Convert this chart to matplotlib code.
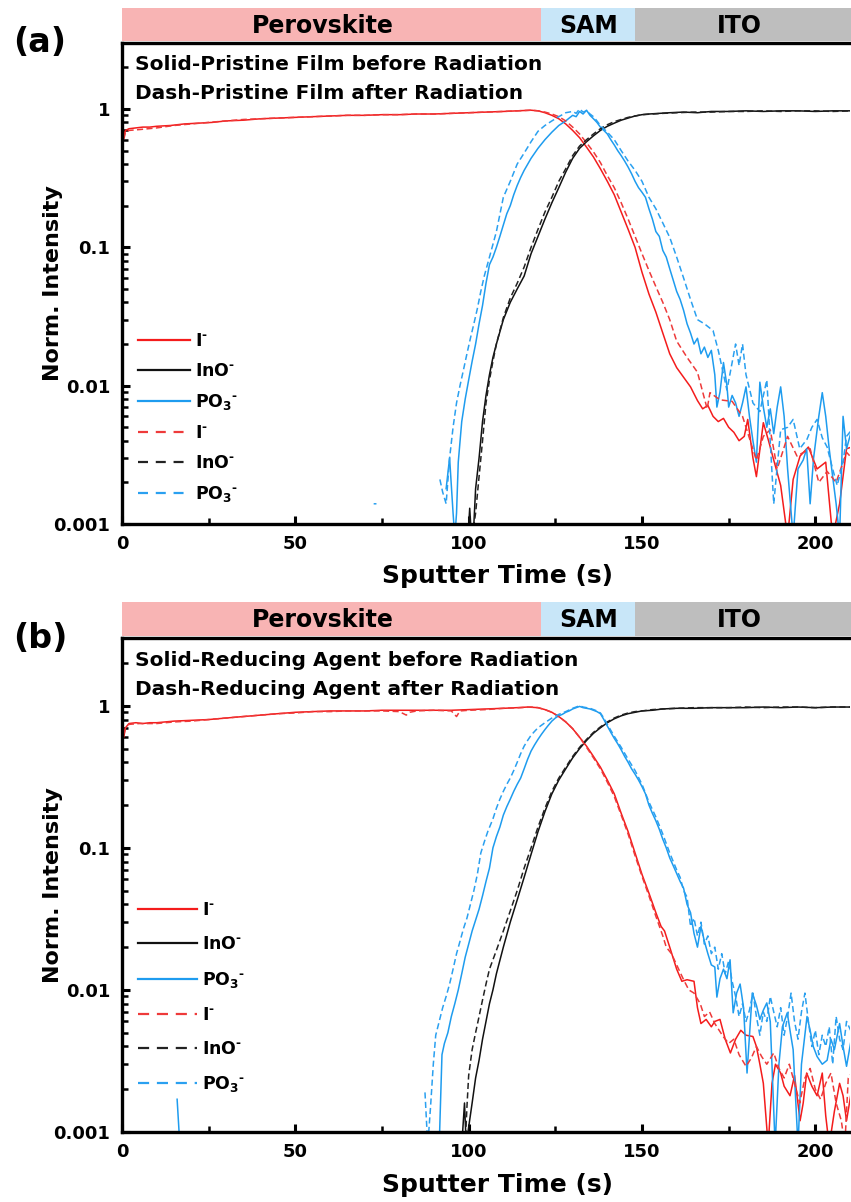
import numpy as np
import matplotlib
matplotlib.use("Agg")
import matplotlib.pyplot as plt
from matplotlib.patches import Rectangle
from matplotlib.lines import Line2D
from matplotlib.ticker import FixedLocator, FixedFormatter, LogLocator, MultipleLocator, NullFormatter

plt.rcParams['font.family'] = ['DejaVu Sans']
plt.rcParams['font.weight'] = 'bold'
plt.rcParams['mathtext.fontset'] = 'dejavusans'
plt.rcParams['mathtext.default'] = 'bf'

# ---------------- layer band ----------------
layer_names = ['Perovskite', 'SAM', 'ITO']
layer_edges = [0, 121, 148, 214]
layer_colors = ['#F8B4B4', '#C8E6F8', '#BEBEBE']
layer_label_x = [58, 134.5, 178]

ytick_vals = [0.001, 0.01, 0.1, 1]
ytick_labels = ['0.001', '0.01', '0.1', '1']
xtick_vals = [0, 50, 100, 150, 200]

# ---------------- panel (a) data ----------------
a_I_solid_x = [0, 0.5, 1, 2, 4, 6, 8, 10, 14, 18, 22, 26, 30, 35, 40, 45, 50, 55, 60, 65, 70, 75, 80, 85, 90, 95,
               100, 105, 110, 114, 118, 120, 122, 124, 126, 128, 130, 132, 134, 136, 138, 140, 142, 144, 146, 148,
               150, 152, 154, 156, 158, 160, 162, 164, 166, 167.5, 169, 170.5, 172, 173.5, 175, 176.5, 178, 179.5,
               180.5, 182, 183, 185, 186.5, 188, 190, 192, 193.6, 195.6, 198, 200.5, 203, 205, 207, 209, 210.5]
a_I_solid_y = [1.0, 0.62, 0.70, 0.72, 0.73, 0.74, 0.74, 0.75, 0.76, 0.78, 0.79, 0.80, 0.82, 0.83, 0.85, 0.86, 0.87,
               0.88, 0.89, 0.90, 0.90, 0.91, 0.91, 0.92, 0.92, 0.93, 0.94, 0.95, 0.96, 0.97, 0.98, 0.97, 0.94, 0.90,
               0.85, 0.78, 0.70, 0.62, 0.53, 0.45, 0.37, 0.30, 0.24, 0.18, 0.135, 0.10, 0.066, 0.046, 0.034, 0.024,
               0.017, 0.0135, 0.0115, 0.0098, 0.0078, 0.0068, 0.0072, 0.0060, 0.0055, 0.0058, 0.0050, 0.0046, 0.0040,
               0.0043, 0.0057, 0.0030, 0.0022, 0.0054, 0.0040, 0.0029, 0.0019, 0.0008, 0.0021, 0.0031, 0.0036, 0.0025,
               0.0028, 0.0008, 0.0014, 0.0035, 0.0036]

a_I_dash_x = [0, 0.5, 1, 2, 5, 10, 15, 20, 25, 30, 35, 40, 45, 50, 55, 60, 65, 70, 75, 80, 85, 90, 95, 100, 105, 110,
              114, 118, 120, 122, 124, 126, 128, 130, 132, 134, 136, 138, 140, 142, 144, 146, 148, 150, 152, 154, 156,
              158, 160, 163, 166, 168.8, 169.6, 172.5, 176, 179, 181.8, 183, 185, 187, 189, 192, 194.7, 198.5, 201,
              203.4, 206, 209, 210.5]
a_I_dash_y = [0.95, 0.60, 0.68, 0.70, 0.71, 0.73, 0.76, 0.78, 0.80, 0.82, 0.84, 0.85, 0.86, 0.87, 0.88, 0.89, 0.90,
              0.90, 0.91, 0.91, 0.92, 0.92, 0.93, 0.94, 0.95, 0.96, 0.97, 0.98, 0.97, 0.95, 0.92, 0.88, 0.82, 0.74,
              0.66, 0.57, 0.49, 0.41, 0.33, 0.27, 0.21, 0.16, 0.12, 0.090, 0.068, 0.052, 0.040, 0.030, 0.021, 0.016,
              0.0125, 0.0068, 0.0089, 0.0079, 0.0077, 0.0060, 0.0036, 0.0029, 0.0043, 0.0048, 0.0025, 0.0043, 0.0031,
              0.0035, 0.0020, 0.0024, 0.0020, 0.0033, 0.0030]

a_InO_solid_x = [99.8, 100.3, 100.8, 101.5, 102, 103, 104, 105, 106, 107, 108, 110, 112, 114, 116, 118, 120, 122, 124,
                 126, 128, 130, 132, 134, 136, 138, 140, 142, 144, 146, 148, 150, 152, 155, 158, 162, 166, 170, 175,
                 180, 185, 190, 195, 200, 205, 210.5]
a_InO_solid_y = [0.0008, 0.0013, 0.0008, 0.0010, 0.0018, 0.0030, 0.0055, 0.0085, 0.012, 0.016, 0.020, 0.030, 0.040,
                 0.050, 0.062, 0.090, 0.12, 0.16, 0.21, 0.27, 0.35, 0.44, 0.52, 0.58, 0.64, 0.70, 0.75, 0.79, 0.83,
                 0.86, 0.89, 0.91, 0.92, 0.93, 0.94, 0.95, 0.94, 0.96, 0.96, 0.97, 0.96, 0.97, 0.97, 0.96, 0.97, 0.97]

a_InO_dash_x = [101, 102, 103, 104, 105, 106, 107, 108, 110, 112, 114, 116, 118, 120, 122, 124, 126, 128, 130, 132,
                134, 136, 138, 140, 142, 144, 146, 148, 150, 153, 156, 160, 165, 170, 175, 180, 185, 190, 195, 200,
                205, 210.5]
a_InO_dash_y = [0.0008, 0.0012, 0.0022, 0.0040, 0.0075, 0.011, 0.015, 0.020, 0.031, 0.043, 0.055, 0.072, 0.10, 0.135,
                0.18, 0.23, 0.30, 0.37, 0.46, 0.54, 0.60, 0.66, 0.72, 0.77, 0.81, 0.84, 0.87, 0.89, 0.91, 0.92, 0.93,
                0.94, 0.95, 0.95, 0.96, 0.96, 0.97, 0.96, 0.97, 0.97, 0.96, 0.97]

a_PO3_solid_x = [93.5, 94.5, 95.5, 96, 96.5, 97, 98, 99, 100, 101, 102, 103, 104, 105, 106, 107, 108, 109, 110, 111,
                 112, 113, 114, 115, 116, 118, 120, 122, 124, 126, 128, 129, 130, 131, 132, 133, 134, 135, 136, 137,
                 138, 139, 140, 141, 142, 143, 144, 145, 146, 147, 148, 149, 150, 151, 152, 153, 154, 155, 156, 157,
                 158, 159, 160, 161, 162, 163, 164, 165, 166, 167, 168, 169, 170, 171, 171.6, 172.5, 173.5, 174.5,
                 175, 176, 177, 178, 179, 180, 181, 182, 183, 184, 185, 186, 187, 188, 189, 190, 191, 192, 193.6,
                 195, 196.5, 197.5, 198.5, 199.5, 201, 202, 203, 204, 205, 206, 207, 208, 209, 210.5]
a_PO3_solid_y = [0.0018, 0.0030, 0.0012, 0.0008, 0.0012, 0.0028, 0.0055, 0.008, 0.011, 0.015, 0.020, 0.028, 0.038,
                 0.055, 0.075, 0.085, 0.10, 0.12, 0.145, 0.175, 0.20, 0.24, 0.28, 0.32, 0.36, 0.44, 0.52, 0.60, 0.68,
                 0.76, 0.82, 0.86, 0.90, 0.88, 0.96, 0.92, 0.98, 0.90, 0.85, 0.80, 0.74, 0.70, 0.66, 0.60, 0.55, 0.50,
                 0.46, 0.42, 0.38, 0.34, 0.30, 0.27, 0.25, 0.23, 0.19, 0.16, 0.13, 0.12, 0.095, 0.085, 0.07, 0.058,
                 0.048, 0.042, 0.035, 0.028, 0.024, 0.020, 0.022, 0.017, 0.019, 0.016, 0.018, 0.012, 0.007, 0.009,
                 0.0147, 0.010, 0.007, 0.0085, 0.0075, 0.0060, 0.0075, 0.0098, 0.006, 0.004, 0.0028, 0.0106, 0.0070,
                 0.0050, 0.0068, 0.0045, 0.0070, 0.0098, 0.0060, 0.0025, 0.0008, 0.0025, 0.0029, 0.0035, 0.0014,
                 0.0030, 0.0060, 0.0089, 0.0060, 0.0035, 0.0022, 0.0014, 0.0008, 0.0060, 0.0035, 0.0048]

a_PO3_dash_x = [72.6, 73.4, np.nan, 91.7, 92.5, 93.5, 94.5, 95.5, 96.5, 97.5, 98.5, 99.5, 100.5, 101.5, 102.5, 103.5,
                104.5, 106, 108, 110, 112, 114, 116, 118, 120, 122, 124, 126, 128, 130, 131, 132, 133, 134, 135, 136,
                137, 138, 140, 142, 144, 146, 148, 150, 152, 154, 156, 158, 160, 162, 164, 166, 168, 170.5, 172,
                174.5, 176, 177, 178, 179, 180, 182, 184, 186, 188, 190, 192, 193.6, 195.5, 197.6, 199, 200.5, 202,
                203.4, 205, 206.3, 208, 209, 210.5]
a_PO3_dash_y = [0.0014, 0.0014, np.nan, 0.0021, 0.0017, 0.0014, 0.0030, 0.0050, 0.0075, 0.010, 0.013, 0.017, 0.022,
                0.028, 0.036, 0.048, 0.062, 0.085, 0.13, 0.23, 0.30, 0.40, 0.48, 0.58, 0.69, 0.76, 0.82, 0.88, 0.94,
                0.96, 0.93, 1.0, 0.95, 0.97, 0.92, 0.88, 0.82, 0.76, 0.68, 0.60, 0.50, 0.42, 0.36, 0.30, 0.23, 0.19,
                0.15, 0.118, 0.085, 0.060, 0.042, 0.030, 0.028, 0.025, 0.018, 0.0093, 0.0147, 0.020, 0.014, 0.020,
                0.012, 0.0075, 0.0065, 0.011, 0.0014, 0.0048, 0.0050, 0.0057, 0.0035, 0.0041, 0.0050, 0.0057, 0.0042,
                0.0036, 0.0025, 0.0019, 0.0028, 0.0043, 0.0048]

# ---------------- panel (b) data ----------------
b_I_solid_x = [0, 0.5, 1, 2, 4, 6, 8, 10, 15, 20, 25, 30, 35, 40, 45, 50, 55, 60, 65, 70, 75, 80, 85, 90, 95, 100,
               105, 110, 114, 117, 120, 122, 124, 126, 128, 130, 132, 134, 136, 138, 140, 142, 144, 146, 148, 150,
               152, 154, 155.5, 156.5, 158, 160, 161.5, 163, 165, 166, 167, 168.5, 170, 171, 172.5, 174, 175.5, 177,
               178.5, 180, 182, 183, 184, 185, 186.4, 187.5, 188.5, 190, 191, 192.7, 194, 195.6, 196.5, 197.5, 199,
               200.5, 202, 203, 204, 205.5, 207, 208, 209, 210.5]
b_I_solid_y = [0.98, 0.60, 0.70, 0.75, 0.76, 0.75, 0.76, 0.76, 0.78, 0.79, 0.80, 0.82, 0.84, 0.86, 0.88, 0.90, 0.91,
               0.92, 0.92, 0.92, 0.93, 0.93, 0.93, 0.93, 0.93, 0.94, 0.95, 0.96, 0.97, 0.98, 0.97, 0.94, 0.90, 0.84,
               0.77, 0.69, 0.60, 0.52, 0.44, 0.37, 0.30, 0.24, 0.175, 0.13, 0.092, 0.065, 0.048, 0.035, 0.028, 0.026,
               0.020, 0.014, 0.0115, 0.0118, 0.0115, 0.0075, 0.0058, 0.0062, 0.0055, 0.0060, 0.0062, 0.0045, 0.0036,
               0.0045, 0.0052, 0.0048, 0.0047, 0.0040, 0.0030, 0.0022, 0.0008, 0.0022, 0.0030, 0.0026, 0.0021, 0.0018,
               0.0025, 0.0012, 0.0016, 0.0026, 0.0021, 0.0018, 0.0026, 0.0013, 0.0008, 0.0014, 0.0022, 0.0018, 0.0012,
               0.0020]

b_I_dash_x = [0, 0.5, 1, 2, 5, 10, 15, 20, 25, 30, 35, 40, 45, 50, 55, 60, 65, 70, 75, 80, 82, 83, 85, 90, 95, 96.5,
              97.5, 100, 105, 110, 115, 118, 120, 122, 124, 126, 128, 130, 132, 134, 136, 138, 140, 142, 144, 146,
              148, 150, 152, 154, 156, 157, 158.5, 160, 162, 163.5, 165, 166.8, 168, 169.5, 171, 173.4, 175, 176.5,
              178, 180, 181.5, 183, 184.5, 186, 188, 189.5, 191, 192.5, 194, 195.5, 197, 198.5, 200, 201.5, 203,
              204.5, 206, 207.5, 208.5, 209.5, 210.5]
b_I_dash_y = [0.95, 0.62, 0.70, 0.74, 0.75, 0.75, 0.77, 0.78, 0.80, 0.82, 0.84, 0.86, 0.88, 0.89, 0.91, 0.91, 0.92,
              0.92, 0.92, 0.91, 0.86, 0.90, 0.92, 0.93, 0.92, 0.84, 0.92, 0.93, 0.94, 0.96, 0.97, 0.98, 0.97, 0.94,
              0.90, 0.84, 0.77, 0.69, 0.60, 0.51, 0.43, 0.36, 0.29, 0.23, 0.17, 0.125, 0.088, 0.063, 0.046, 0.033,
              0.024, 0.020, 0.018, 0.015, 0.0118, 0.010, 0.0095, 0.008, 0.0065, 0.0070, 0.0058, 0.0047, 0.0042,
              0.0045, 0.0035, 0.0029, 0.0033, 0.0040, 0.0034, 0.0030, 0.0036, 0.0028, 0.0024, 0.0030, 0.0022, 0.0016,
              0.0024, 0.0028, 0.0020, 0.0017, 0.0022, 0.0026, 0.0016, 0.0012, 0.0008, 0.0024, 0.0026]

b_InO_solid_x = [98, 98.8, 99.3, 99.8, 101, 102, 103, 104, 105, 106, 107, 108, 110, 112, 114, 116, 118, 120, 122, 124,
                 126, 128, 130, 132, 134, 136, 138, 140, 142, 144, 146, 148, 150, 153, 156, 160, 165, 170, 175, 180,
                 185, 190, 195, 200, 205, 210.5]
b_InO_solid_y = [0.0008, 0.0016, 0.0008, 0.0010, 0.0016, 0.0024, 0.0032, 0.0045, 0.006, 0.008, 0.010, 0.013, 0.020,
                 0.030, 0.043, 0.062, 0.09, 0.13, 0.18, 0.24, 0.30, 0.36, 0.43, 0.50, 0.57, 0.64, 0.70, 0.76, 0.81,
                 0.85, 0.88, 0.90, 0.92, 0.93, 0.95, 0.96, 0.96, 0.97, 0.97, 0.97, 0.98, 0.97, 0.98, 0.97, 0.98, 0.98]

b_InO_dash_x = [99, 99.5, 100, 101, 102, 103, 104, 105, 106, 108, 110, 112, 114, 116, 118, 120, 122, 124, 126, 128,
                130, 132, 134, 136, 138, 140, 142, 144, 146, 148, 150, 153, 156, 160, 165, 170, 175, 180, 185, 190,
                195, 200, 205, 210.5]
b_InO_dash_y = [0.0008, 0.0015, 0.0025, 0.0038, 0.0050, 0.0065, 0.0085, 0.011, 0.014, 0.019, 0.026, 0.036, 0.050,
                0.072, 0.10, 0.14, 0.19, 0.25, 0.31, 0.37, 0.44, 0.51, 0.58, 0.65, 0.71, 0.77, 0.82, 0.86, 0.89, 0.91,
                0.92, 0.94, 0.95, 0.96, 0.97, 0.97, 0.97, 0.98, 0.97, 0.98, 0.98, 0.97, 0.98, 0.98]

b_PO3_solid_x = [15.9, 16.7, np.nan, 91.5, 92.3, 93, 94, 95, 96, 97, 98, 99, 100, 101, 102, 103, 104, 105, 106, 107,
                 108, 109, 110, 111, 112, 113, 114, 115, 116, 117, 118, 119, 120, 121, 122, 123, 124, 125, 126, 127,
                 128, 129, 130, 131, 132, 133, 134, 135, 136, 137, 138, 139, 140, 141, 142, 143, 144, 145, 146, 147,
                 148, 149, 150, 151, 152, 153, 154, 155, 156, 157, 158, 159, 160, 161, 162, 163, 164, 165, 166, 167,
                 168, 169, 170, 171, 171.6, 172.5, 173.5, 174.5, 175.4, 176.3, 177.3, 178.3, 179.3, 180.3, 181.8, 183,
                 184, 185, 186, 187, 188.4, 189.5, 190.5, 191.9, 192.8, 193.6, 195, 196, 197.6, 198.5, 199.4, 200.5,
                 202, 203.4, 204.5, 205.5, 207, 208, 209, 210.5]
b_PO3_solid_y = [0.0017, 0.0008, np.nan, 0.0008, 0.0035, 0.0042, 0.005, 0.0065, 0.008, 0.010, 0.013, 0.017, 0.021,
                 0.026, 0.031, 0.037, 0.046, 0.058, 0.072, 0.10, 0.12, 0.14, 0.17, 0.195, 0.22, 0.25, 0.28, 0.31, 0.36,
                 0.42, 0.48, 0.53, 0.58, 0.63, 0.68, 0.73, 0.78, 0.82, 0.85, 0.87, 0.90, 0.92, 0.95, 0.97, 0.99, 0.97,
                 0.96, 0.95, 0.93, 0.91, 0.88, 0.80, 0.72, 0.65, 0.59, 0.54, 0.49, 0.44, 0.40, 0.36, 0.33, 0.30, 0.27,
                 0.24, 0.20, 0.175, 0.155, 0.135, 0.115, 0.10, 0.085, 0.075, 0.066, 0.058, 0.052, 0.040, 0.035, 0.025,
                 0.020, 0.028, 0.022, 0.018, 0.015, 0.0145, 0.0089, 0.012, 0.014, 0.012, 0.0163, 0.0069, 0.0095, 0.011,
                 0.0075, 0.0026, 0.0095, 0.0078, 0.0062, 0.0072, 0.0081, 0.0060, 0.0008, 0.0030, 0.0055, 0.0069, 0.0050,
                 0.0038, 0.0008, 0.0030, 0.0065, 0.0052, 0.0040, 0.0034, 0.0030, 0.0032, 0.0045, 0.0038, 0.0058, 0.0040,
                 0.0029, 0.0047]

b_PO3_dash_x = [87.4, 88.2, 89, 89.8, 90.5, 91.5, 92.5, 93.5, 94.5, 95.5, 96.5, 97.5, 98.5, 99.5, 100.5, 101.5, 102.5,
                103.5, 104.5, 105.5, 107, 108, 109, 110, 111, 112, 113, 114, 115, 116, 117, 118, 119, 120, 122, 124,
                126, 128, 130, 131, 132, 133, 134, 135, 136, 137, 138, 139, 140, 142, 144, 146, 148, 150, 152, 154,
                156, 158, 160, 161, 162, 163, 164, 165, 166, 167, 168, 169, 170, 171, 172, 173, 174, 175, 176, 177,
                178, 179, 180, 181, 182, 183, 184, 185, 186, 187, 188, 189, 190, 191, 192, 193, 194, 195, 196, 197,
                198, 199, 200, 201, 202, 203, 204, 205, 206, 207, 208, 209, 210.5]
b_PO3_dash_y = [0.0019, 0.0008, 0.0015, 0.0030, 0.0048, 0.006, 0.0075, 0.009, 0.011, 0.014, 0.018, 0.022, 0.027,
                0.032, 0.040, 0.050, 0.065, 0.092, 0.11, 0.13, 0.16, 0.19, 0.22, 0.25, 0.28, 0.31, 0.35, 0.40, 0.46,
                0.52, 0.57, 0.62, 0.66, 0.70, 0.76, 0.82, 0.87, 0.91, 0.96, 0.98, 1.0, 0.98, 0.97, 0.96, 0.94, 0.92,
                0.89, 0.82, 0.74, 0.61, 0.51, 0.42, 0.35, 0.28, 0.21, 0.165, 0.125, 0.092, 0.07, 0.062, 0.050, 0.045,
                0.028, 0.032, 0.024, 0.030, 0.021, 0.024, 0.018, 0.020, 0.014, 0.018, 0.013, 0.016, 0.0115, 0.0090,
                0.0065, 0.0080, 0.0060, 0.0072, 0.0095, 0.0065, 0.0048, 0.0070, 0.0060, 0.0090, 0.0070, 0.0055, 0.0075,
                0.0048, 0.0065, 0.0095, 0.0060, 0.0045, 0.0070, 0.0095, 0.0060, 0.0040, 0.0052, 0.0035, 0.0048, 0.0040,
                0.0055, 0.0030, 0.0065, 0.0045, 0.0038, 0.0060, 0.0050]

panel_a = {
    'note': ['Solid-Pristine Film before Radiation', 'Dash-Pristine Film after Radiation'],
    'solid': [(a_I_solid_x, a_I_solid_y), (a_InO_solid_x, a_InO_solid_y), (a_PO3_solid_x, a_PO3_solid_y)],
    'dash': [(a_I_dash_x, a_I_dash_y), (a_InO_dash_x, a_InO_dash_y), (a_PO3_dash_x, a_PO3_dash_y)],
}
panel_b = {
    'note': ['Solid-Reducing Agent before Radiation', 'Dash-Reducing Agent after Radiation'],
    'solid': [(b_I_solid_x, b_I_solid_y), (b_InO_solid_x, b_InO_solid_y), (b_PO3_solid_x, b_PO3_solid_y)],
    'dash': [(b_I_dash_x, b_I_dash_y), (b_InO_dash_x, b_InO_dash_y), (b_PO3_dash_x, b_PO3_dash_y)],
}

species_labels = [r'I$^{\text{-}}$', r'InO$^{\text{-}}$', r'PO$_{3}{}^{\text{-}}$']
colors_solid = ['#F41C1C', '#111111', '#1E9CEF']
colors_dash = ['#EE3A3A', '#222222', '#2AA0F0']

W, H = 851, 1202
fig = plt.figure(figsize=(W / 100, H / 100), dpi=100)


def px_rect(left, top, right, bottom):
    return [left / W, 1 - bottom / H, (right - left) / W, (bottom - top) / H]


def draw_panel(rect, data, tag, tag_y, leg_anchor, leg_spacing, handle_len, dash_pat):
    ax = fig.add_axes(rect)
    for (x, y), c in zip(data['solid'], colors_solid):
        ax.plot(x, y, color=c, lw=1.1)
    for (x, y), c in zip(data['dash'], colors_dash):
        ax.plot(x, y, color=c, lw=1.1, ls=(0, (4, 2.2)))
    ax.set_yscale('log')
    ax.set_ylim(0.001, 3.0)
    ax.set_xlim(0, 210)
    ax.yaxis.set_major_locator(FixedLocator(ytick_vals))
    ax.yaxis.set_major_formatter(FixedFormatter(ytick_labels))
    ax.yaxis.set_minor_locator(LogLocator(base=10, subs=np.arange(2, 10)))
    ax.yaxis.set_minor_formatter(NullFormatter())
    ax.xaxis.set_major_locator(FixedLocator(xtick_vals))
    ax.xaxis.set_minor_locator(MultipleLocator(25))
    ax.tick_params(which='major', direction='in', length=6, width=2.2, labelsize=13)
    ax.tick_params(axis='y', which='major', pad=8.5)
    ax.tick_params(axis='x', which='major', pad=8)
    ax.tick_params(which='minor', direction='in', length=4, width=1.8)
    for lab in ax.get_xticklabels() + ax.get_yticklabels():
        lab.set_fontweight('bold')
    for s in ['left', 'bottom', 'top']:
        ax.spines[s].set_linewidth(2.4)
    ax.spines['right'].set_visible(False)
    ax.set_xlabel('Sputter Time (s)', fontsize=18, fontweight='bold')
    ax.set_ylabel('Norm. Intensity', fontsize=16, fontweight='bold')
    ax.xaxis.set_label_coords(0.516, -0.084)
    ax.yaxis.set_label_coords(-0.081, 0.5)

    # layer band above the axes
    tr = ax.get_xaxis_transform()
    for i, name in enumerate(layer_names):
        ax.add_patch(Rectangle((layer_edges[i], 1.004), layer_edges[i + 1] - layer_edges[i], 0.068,
                               transform=tr, facecolor=layer_colors[i], edgecolor='none', clip_on=False))
        ax.text(layer_label_x[i], 1.036, name, transform=tr, ha='center', va='center',
                fontsize=17, fontweight='bold', clip_on=False)

    ax.text(0.018, 0.955, data['note'][0], transform=ax.transAxes, fontsize=14.5, fontweight='bold', va='center')
    ax.text(0.018, 0.895, data['note'][1], transform=ax.transAxes, fontsize=14.5, fontweight='bold', va='center')

    handles = [Line2D([], [], color=c, lw=1.6) for c in colors_solid] + \
              [Line2D([], [], color=c, lw=1.6, ls=(0, dash_pat)) for c in colors_dash]
    leg = ax.legend(handles, species_labels * 2, loc='upper left', bbox_to_anchor=leg_anchor, frameon=False,
                    fontsize=12.5, handlelength=handle_len, handletextpad=0.3, labelspacing=leg_spacing,
                    borderaxespad=0)
    for t in leg.get_texts():
        t.set_fontweight('bold')

    fig.text(40 / W, 1 - tag_y / H, tag, fontsize=24, fontweight='bold', ha='center', va='center')
    return ax


draw_panel(px_rect(122, 43, 850, 524), panel_a, '(a)', 42, (0.012, 0.414), 0.69, 3.0, (4.5, 3.5))
draw_panel(px_rect(122, 638, 850, 1132), panel_b, '(b)', 638, (0.012, 0.481), 0.93, 3.4, (5, 3.5))

fig.savefig('out.png', dpi=100)
